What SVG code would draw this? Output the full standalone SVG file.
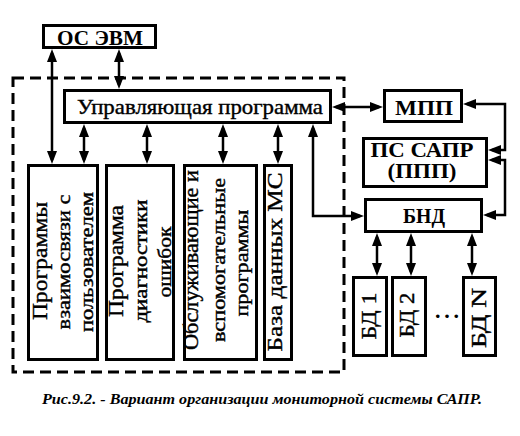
<svg xmlns="http://www.w3.org/2000/svg" width="520" height="436" viewBox="0 0 520 436" font-family="'Liberation Serif', 'DejaVu Serif', serif">
<style>
.box{fill:#fff;stroke:#000;stroke-width:3}
.dash{fill:none;stroke:#000;stroke-width:3;stroke-dasharray:11 6}
.ln{fill:none;stroke:#000;stroke-width:2.5;marker-start:url(#ah);marker-end:url(#ah)}
text{font-family:'Liberation Serif','DejaVu Serif',serif;fill:#000;stroke:#000;stroke-width:0.4}
.t{font-size:22px;text-anchor:middle}
.b{font-weight:bold;stroke-width:0}
.v{font-size:19px;text-anchor:middle}
.cap{font-size:15px;font-weight:bold;font-style:italic;stroke-width:0}
</style>
<defs>
<marker id="ah" markerUnits="userSpaceOnUse" markerWidth="14" markerHeight="10" refX="9" refY="5" orient="auto-start-reverse" overflow="visible">
<path d="M0,0 L13,5 L0,10 z" fill="#000"/>
</marker>
</defs>
<rect class="dash" x="13" y="78" width="331" height="294"/>
<g id="connectors">
<path class="ln" d="M52,53 V160"/>
<path class="ln" d="M119,53 V85"/>
<path class="ln" d="M84,128 V160"/>
<path class="ln" d="M147,128 V160"/>
<path class="ln" d="M223,128 V160"/>
<path class="ln" d="M278,128 V160"/>
<path class="ln" d="M336,107 H379"/>
<path class="ln" d="M313,128 V216 H360"/>
<path class="ln" d="M467,104 H505 V150 H492"/>
<path class="ln" d="M492,160 H505 V215 H487"/>
<path class="ln" d="M377,237 V272"/>
<path class="ln" d="M411,237 V272"/>
<path class="ln" d="M472,237 V272"/>
</g>
<g id="os">
<rect class="box" x="43.5" y="25.5" width="112" height="22"/>
<text class="t b" x="100" y="45" textLength="86" lengthAdjust="spacingAndGlyphs">ОС ЭВМ</text>
</g>
<g id="upr">
<rect class="box" x="64.5" y="90.5" width="266" height="32"/>
<text class="t" x="200" y="114" textLength="246" lengthAdjust="spacingAndGlyphs">Управляющая программа</text>
</g>
<g id="box1">
<rect class="box" x="28.5" y="165.5" width="69" height="194"/>
<text class="t" transform="translate(47,261) rotate(-90)" textLength="118" lengthAdjust="spacingAndGlyphs">Программы</text>
<text class="v" transform="translate(70,262) rotate(-90)" textLength="135" lengthAdjust="spacingAndGlyphs">взаимосвязи с</text>
<text class="v" transform="translate(93,262) rotate(-90)" textLength="140" lengthAdjust="spacingAndGlyphs">пользователем</text>
</g>
<g id="box2">
<rect class="box" x="106.5" y="165.5" width="67" height="194"/>
<text class="t" transform="translate(123,261) rotate(-90)" textLength="112" lengthAdjust="spacingAndGlyphs">Программа</text>
<text class="v" transform="translate(147,261) rotate(-90)" textLength="123" lengthAdjust="spacingAndGlyphs">диагностики</text>
<text class="v" transform="translate(171,262) rotate(-90)" textLength="71" lengthAdjust="spacingAndGlyphs">ошибок</text>
</g>
<g id="box3">
<rect class="box" x="184.5" y="165.5" width="72" height="194"/>
<text class="t" transform="translate(198,260) rotate(-90)" textLength="180" lengthAdjust="spacingAndGlyphs">Обслуживающие и</text>
<text class="v" transform="translate(225,260) rotate(-90)" textLength="164" lengthAdjust="spacingAndGlyphs">вспомогательные</text>
<text class="v" transform="translate(248,263) rotate(-90)" textLength="107" lengthAdjust="spacingAndGlyphs">программы</text>
</g>
<g id="box4">
<rect class="box" x="264.5" y="165.5" width="27" height="194"/>
<text class="t" transform="translate(282,262) rotate(-90)" textLength="179" lengthAdjust="spacingAndGlyphs">База данных МС</text>
</g>
<g id="mpp">
<rect class="box" x="384.5" y="90.5" width="77" height="31"/>
<text class="t b" x="424" y="115" textLength="58" lengthAdjust="spacingAndGlyphs">МПП</text>
</g>
<g id="pssapr">
<rect class="box" x="363.5" y="138.5" width="123" height="48"/>
<text class="t b" x="422" y="157" style="font-size:20px" textLength="103" lengthAdjust="spacingAndGlyphs">ПС САПР</text>
<text class="t b" x="422" y="178" style="font-size:20px" textLength="69" lengthAdjust="spacingAndGlyphs">(ППП)</text>
</g>
<g id="bnd">
<rect class="box" x="365.5" y="199.5" width="116" height="32"/>
<text class="t b" x="424" y="223" textLength="42" lengthAdjust="spacingAndGlyphs">БНД</text>
</g>
<g id="bd1">
<rect class="box" x="353.5" y="277.5" width="33" height="78"/>
<text class="t" transform="translate(376,316) rotate(-90)" textLength="47" lengthAdjust="spacingAndGlyphs">БД 1</text>
</g>
<g id="bd2">
<rect class="box" x="392.5" y="277.5" width="33" height="78"/>
<text class="t" transform="translate(414,315) rotate(-90)" textLength="45" lengthAdjust="spacingAndGlyphs">БД 2</text>
</g>
<text class="t b" x="447" y="318" textLength="24" lengthAdjust="spacing">...</text>
<g id="bdn">
<rect class="box" x="463.5" y="277.5" width="32" height="78"/>
<text class="t" transform="translate(486,318) rotate(-90)" textLength="60" lengthAdjust="spacingAndGlyphs">БД N</text>
</g>
<text class="cap" x="262" y="404" text-anchor="middle" textLength="440" lengthAdjust="spacingAndGlyphs">Рис.9.2. - Вариант организации мониторной системы САПР.</text>
</svg>
